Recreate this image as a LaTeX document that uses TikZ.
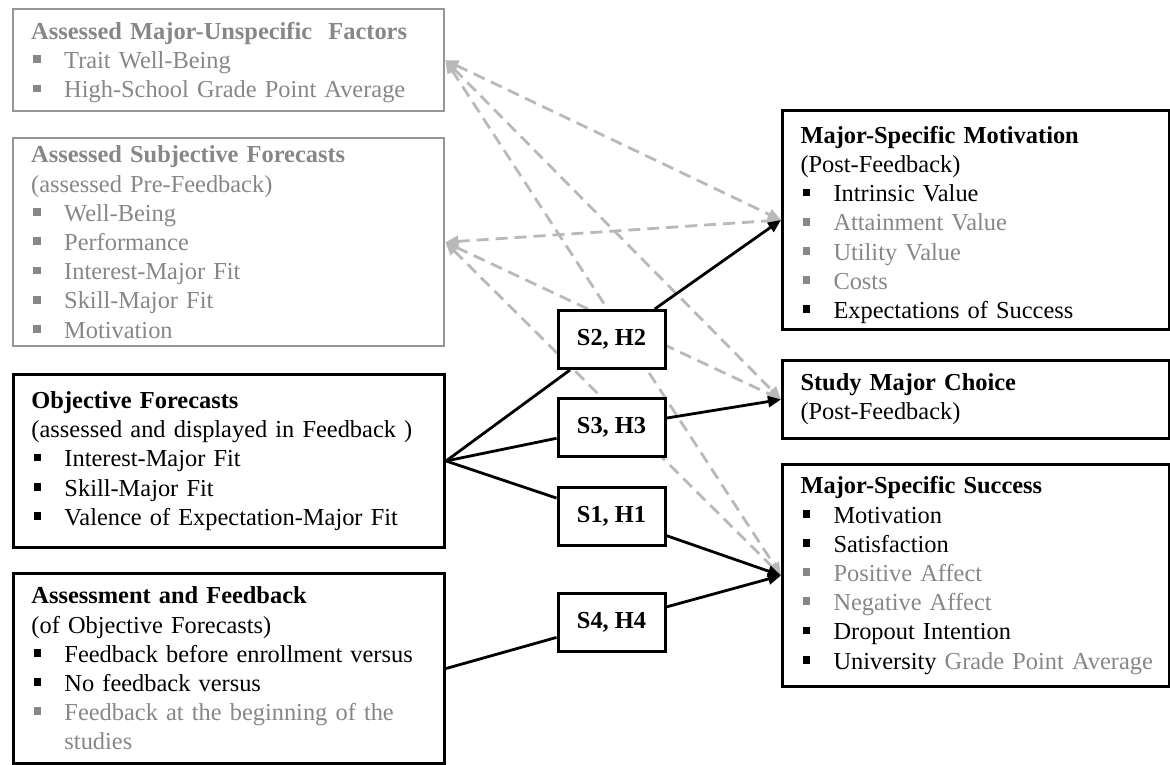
\documentclass[tikz,border=0pt]{standalone}
\usepackage{fontspec}
\setmainfont{Liberation Serif}
\usepackage{xcolor}
\usepackage{tikz}
\usetikzlibrary{positioning,arrows.meta,backgrounds}
\definecolor{cgraytext}{RGB}{135,135,135}
\definecolor{cgrayline}{RGB}{150,150,150}
\definecolor{cdash}{RGB}{185,185,185}

\newcommand{\bul}{\makebox[16.5pt][l]{\hspace{1pt}\rule[2.7pt]{3.9pt}{3.9pt}}}
\newcommand{\gitm}[1]{\textcolor{cgraytext}{\bul #1}}

\begin{document}
\begin{tikzpicture}[x=0.5pt, y=-0.5pt,
    >={Triangle[length=6.5pt,width=5.5pt]},
    % Box styles
    box/.style={draw, line width=1.5pt, fill=white, anchor=north west, align=left,
                inner xsep=9pt, inner ysep=2pt, font=\fontsize{12.2}{14.6}\selectfont},
    leftbox/.style={box, text width=197.5pt, minimum width=215.5pt},
    rightbox/.style={box, text width=175.5pt, minimum width=193.5pt},
    graybox/.style={leftbox, draw=cgrayline, line width=1.2pt, text=cgraytext},
    sbox/.style={draw, line width=1.5pt, fill=white, minimum width=53.5pt, minimum height=29pt,
                 font=\fontsize{12.2}{14.6}\selectfont\bfseries},
    % Line styles
    effect/.style={->, line width=1.4pt},
    link/.style={line width=1.4pt},
    corr/.style={<->, line width=1.4pt, color=cdash, dash pattern=on 6pt off 3.5pt},
  ]
  \useasboundingbox (0,0) rectangle (1170,764);

  % ===== LEFT: predictors =====
  \node[graybox, minimum height=51pt] (unspec) at (12,8) {%
    \textbf{Assessed Major-Unspecific\ \ Factors}\rule{0pt}{11pt}\\
    \bul Trait Well-Being\\
    \bul High-School Grade Point Average};
  \node[graybox, minimum height=104pt] (subj) at (12,137) {%
    \textbf{Assessed Subjective Forecasts}\\
    (assessed Pre-Feedback)\\
    \bul Well-Being\\
    \bul Performance\\
    \bul Interest-Major Fit\\
    \bul Skill-Major Fit\\
    \bul Motivation};
  \node[leftbox, minimum height=86.5pt] (obj) at (12,373) {%
    \textbf{Objective Forecasts}\\
    (assessed and displayed in Feedback )\\
    \bul Interest-Major Fit\\
    \bul Skill-Major Fit\\
    \bul Valence of Expectation-Major Fit};
  \node[leftbox, minimum height=95pt] (assess) at (12,572) {%
    \textbf{Assessment and Feedback}\\
    (of Objective Forecasts)\\
    \bul Feedback before enrollment versus\\
    \bul No feedback versus\\
    \gitm{Feedback at the beginning of the}\\
    \hspace*{16.5pt}\textcolor{cgraytext}{studies}};

  % ===== CENTER: study / hypothesis boxes =====
  \node[sbox] (s2) at (611.5,339.5) {S2, H2};
  \node[sbox] (s3) at (611.5,427) {S3, H3};
  \node[sbox] (s1) at (611.5,516.5) {S1, H1};
  \node[sbox] (s4) at (611.5,622) {S4, H4};

  % ===== RIGHT: outcomes =====
  \node[rightbox, minimum height=109.5pt] (motiv) at (781,109) {%
    \textbf{Major-Specific Motivation}\rule{0pt}{13.5pt}\\
    (Post-Feedback)\\
    \bul Intrinsic Value\\
    \gitm{Attainment Value}\\
    \gitm{Utility Value}\\
    \gitm{Costs}\\
    \bul Expectations of Success};
  \node[rightbox, minimum height=39pt] (choice) at (781,359) {%
    \textbf{Study Major Choice}\\
    (Post-Feedback)};
  \node[rightbox, minimum height=111pt] (success) at (781,463) {%
    \textbf{Major-Specific Success}\\
    \bul Motivation\\
    \bul Satisfaction\\
    \gitm{Positive Affect}\\
    \gitm{Negative Affect}\\
    \bul Dropout Intention\\
    \mbox{\bul University \textcolor{cgraytext}{Grade Point Average}}};

  \begin{scope}[on background layer]
    % Controls (dashed, both ways)
    \draw[corr] (unspec.east) -- (motiv.west);
    \draw[corr] (unspec.east) -- (choice.west);
    \draw[corr] (unspec.east) -- (success.west);
    \draw[corr] (subj.east) -- (motiv.west);
    \draw[corr] (subj.east) -- (choice.west);
    \draw[corr] (subj.east) -- (success.west);

    % Predictors -> studies
    \draw[link] (obj.east) -- (s2);
    \draw[link] (obj.east) -- (s3);
    \draw[link] (obj.east) -- (s1);
    \draw[link] (assess.east) -- (s4);

    % Studies -> outcomes
    \draw[effect] (s2) -- (motiv.west);
    \draw[effect] (s3) -- (choice.west);
    \draw[effect] (s1) -- (success.west);
    \draw[effect] (s4) -- (success.west);
  \end{scope}

\end{tikzpicture}
\end{document}
